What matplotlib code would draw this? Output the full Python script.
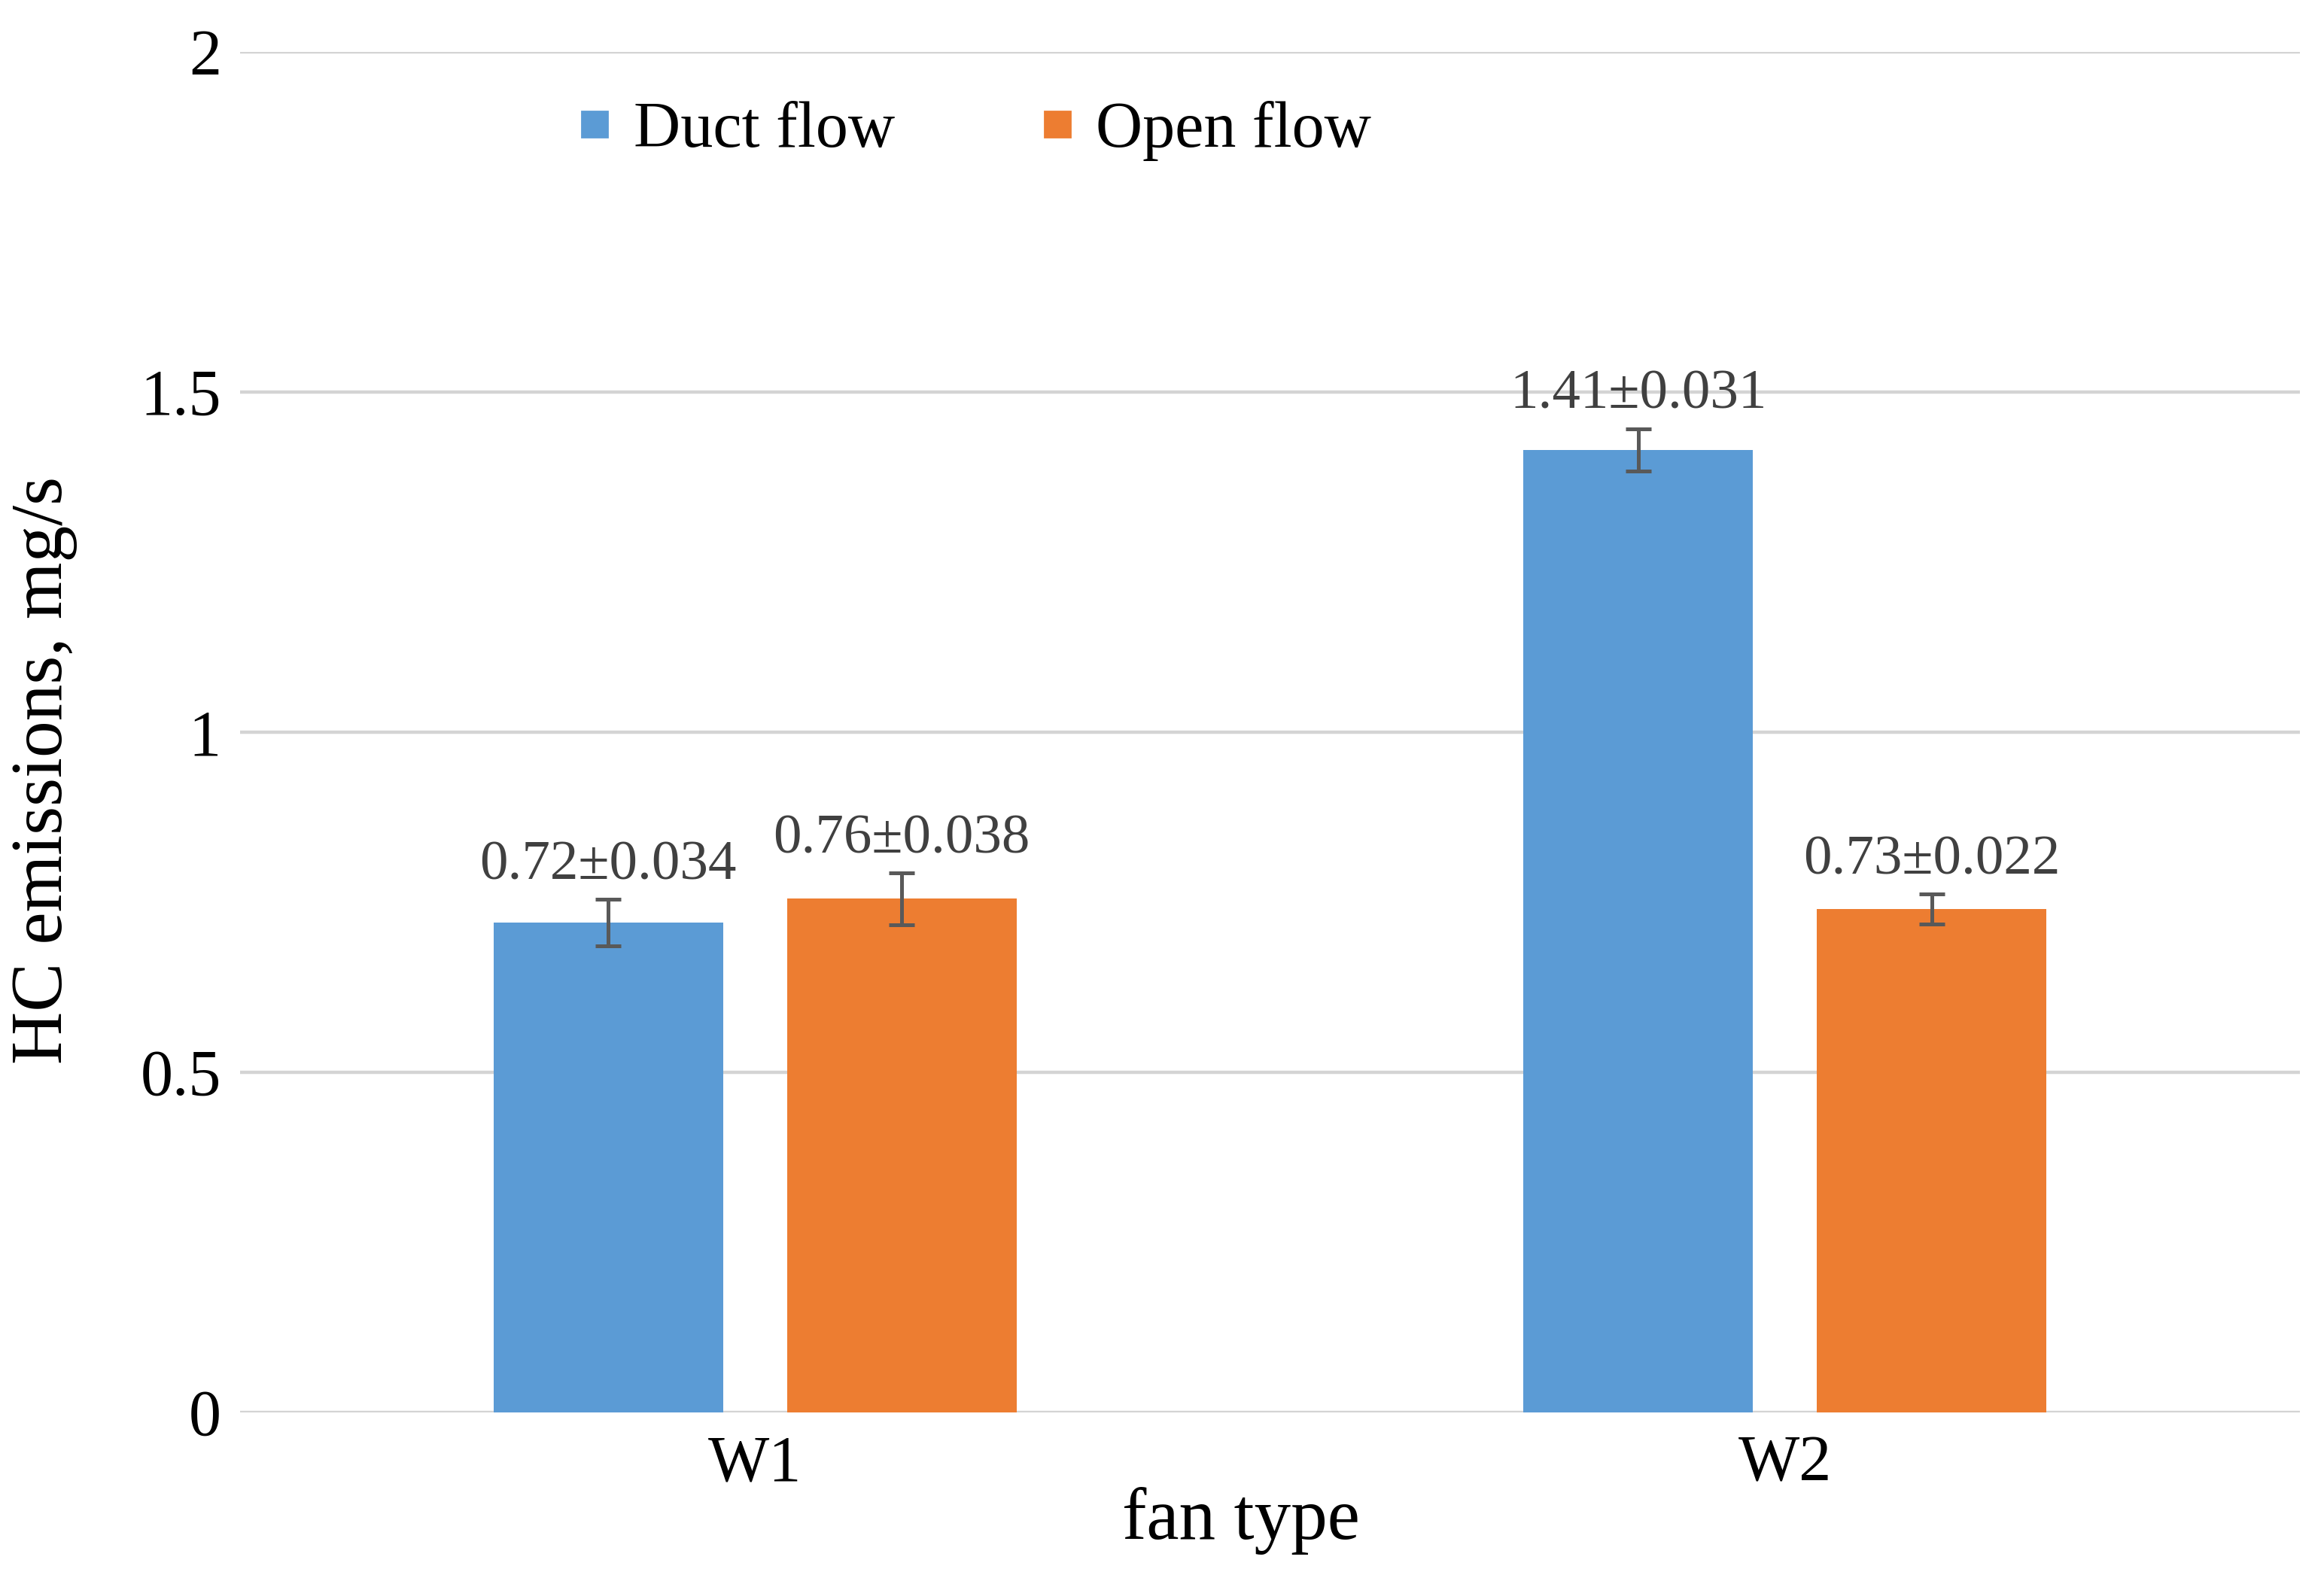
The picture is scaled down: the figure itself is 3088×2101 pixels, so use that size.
import numpy as np
import matplotlib.pyplot as plt
from matplotlib.lines import Line2D

# data
fans = ["W1", "W2"]
duct = [0.72, 1.415]
duct_err = [0.034, 0.031]
duct_labels = ["0.72±0.034", "1.41±0.031"]
openf = [0.755, 0.74]
open_err = [0.038, 0.022]
open_labels = ["0.76±0.038", "0.73±0.022"]
yticks = [0, 0.5, 1, 1.5, 2]

plt.rcParams['font.family'] = ['Liberation Serif', 'DejaVu Serif']

fig = plt.figure(figsize=(15.44, 10.505), dpi=200)
ax = fig.add_axes([0.1033, 0.1068, 0.8863, 0.8604])

x = np.arange(len(fans))
w = 0.223
off = 0.1425
blue = "#5B9BD5"
orange = "#ED7D31"

ax.bar(x - off, duct, w, color=blue, zorder=3)
ax.bar(x + off, openf, w, color=orange, zorder=3)
ax.errorbar(x - off, duct, yerr=duct_err, fmt="none", ecolor="#595959",
            elinewidth=1.8, capsize=6, capthick=1.8, zorder=4)
ax.errorbar(x + off, openf, yerr=open_err, fmt="none", ecolor="#595959",
            elinewidth=1.8, capsize=6, capthick=1.8, zorder=4)

for xi, v, e, t in zip(x - off, duct, duct_err, duct_labels):
    ax.annotate(t, (xi, v + e), xytext=(0, 16), textcoords="offset points",
                ha="center", va="center", fontsize=27, color="#404040")
for xi, v, e, t in zip(x + off, openf, open_err, open_labels):
    ax.annotate(t, (xi, v + e), xytext=(0, 16), textcoords="offset points",
                ha="center", va="center", fontsize=27, color="#404040")

ax.set_xlim(-0.5, 1.5)
ax.set_ylim(0, 2)
ax.set_yticks(yticks)
ax.set_yticklabels(["0", "0.5", "1", "1.5", "2"])
ax.set_xticks(x)
ax.set_xticklabels(fans)
ax.tick_params(axis="both", length=0, labelsize=31)
ax.tick_params(axis="y", pad=9)
ax.tick_params(axis="x", pad=11)
ax.grid(axis="y", color="#D4D4D4", linewidth=1.6, zorder=0)
for s in ax.spines.values():
    s.set_visible(False)

ax.set_xlabel("fan type", fontsize=35)
ax.xaxis.set_label_coords(0.486, -0.055)
ax.text(-0.095, 0.472, "HC emissions, mg/s", transform=ax.transAxes,
        rotation=90, ha="center", va="center", fontsize=35)

handles = [Line2D([], [], marker="s", linestyle="none", color=blue, markersize=12),
           Line2D([], [], marker="s", linestyle="none", color=orange, markersize=12)]
ax.legend(handles, ["Duct flow", "Open flow"], loc="center", bbox_to_anchor=(0.356, 0.942),
          ncol=2, frameon=False, fontsize=31, handlelength=0.6, handletextpad=0.3,
          columnspacing=2.2)

fig.savefig("out.png", dpi=200)
